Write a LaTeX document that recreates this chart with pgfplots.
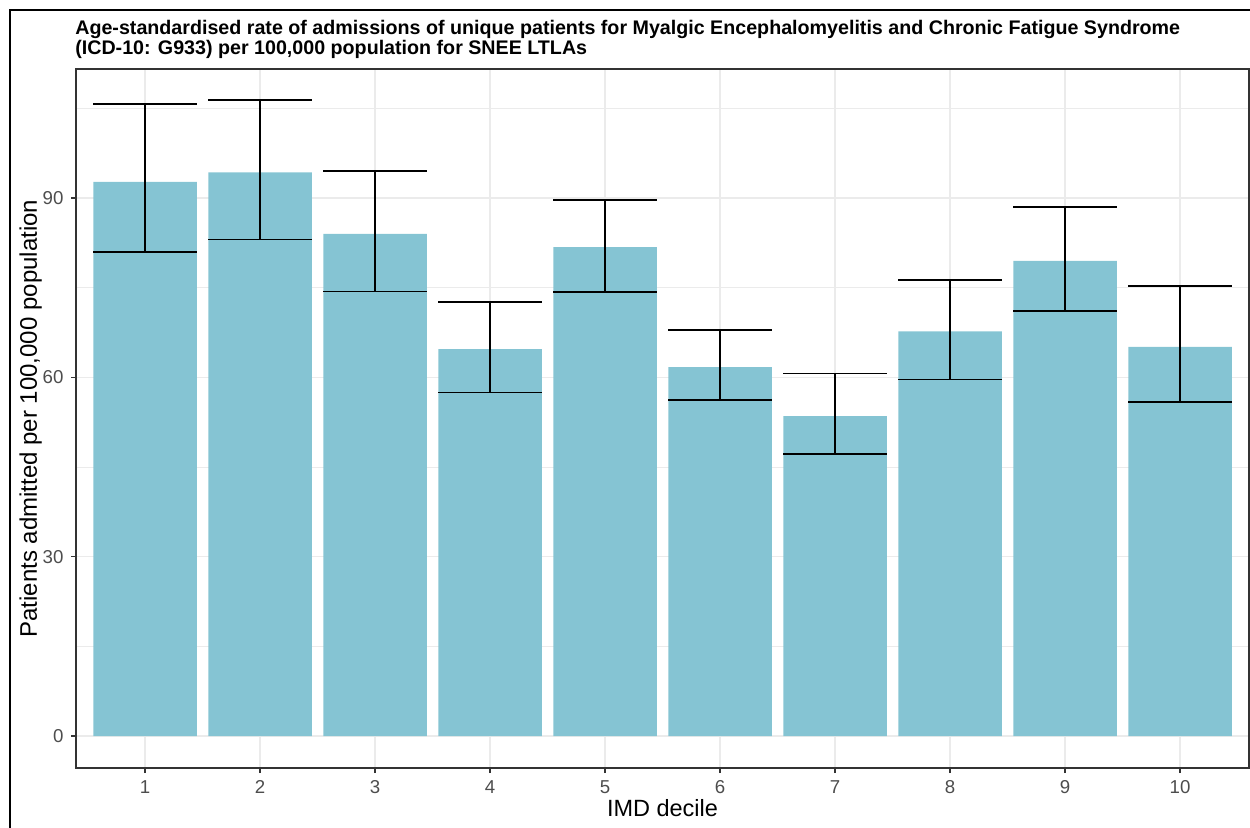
\documentclass[border=0pt]{standalone}
\usepackage{pgfplots}
\pgfplotsset{compat=1.18}
\usepackage{pgfplotstable}
\usepackage{fontspec}
\setmainfont{Liberation Sans}
\definecolor{barc}{RGB}{133,196,211}
\definecolor{gridc}{RGB}{235,235,235}
\definecolor{tickc}{RGB}{77,77,77}
\definecolor{framec}{RGB}{51,51,51}
\pgfplotstableread{
x y ep em
1 92.7 13.0 11.7
2 94.3 12.1 11.2
3 84.0 10.5 9.6
4 64.7 7.9 7.2
5 81.8 7.9 7.5
6 61.7 6.2 5.5
7 53.5 7.1 6.3
8 67.7 8.6 8.1
9 79.5 9.0 8.4
10 65.1 10.2 9.2
}\datatable
\begin{document}
\begin{tikzpicture}
\useasboundingbox (0,0) rectangle (750pt,496.2pt);
\draw[line width=1.4pt] (6pt,-2pt) -- (6pt,490.2pt) -- (752pt,490.2pt);
\begin{axis}[
  at={(45.6pt,35.4pt)}, anchor=south west,
  scale only axis, width=703.8pt, height=419.4pt,
  xmin=0.4, xmax=10.6, ymin=-5.35, ymax=111.58,
  xtick={1,...,10}, ytick={0,30,60,90}, minor ytick={15,45,75,105},
  grid=both,
  major grid style={draw=gridc, line width=0.9pt},
  minor grid style={draw=gridc, line width=0.5pt},
  axis line style={draw=framec, line width=0.8pt},
  tick align=outside, major tick length=3pt, minor tick length=0pt,
  tick style={draw=framec, line width=0.7pt},
  xtick pos=bottom, ytick pos=left,
  ticklabel style={font=\fontsize{11.2}{12}\selectfont, text=tickc},
  /pgf/number format/assume math mode=true,
  xticklabel style={yshift=-1pt},
  yticklabel style={xshift=-1pt},
  axis on top=false,
]
\addplot[ybar, bar width=0.9, fill=barc, draw=none,
  error bars/.cd, y dir=both, y explicit,
  error bar style={black, line width=0.85pt},
  error mark options={black, line width=0.85pt, mark size=31.05pt, rotate=90}]
  table[x=x, y=y, y error plus=ep, y error minus=em] {\datatable};
\end{axis}
\node[anchor=base west, align=left, font=\bfseries\fontsize{11.8}{11}\selectfont, inner sep=0pt] at (45pt,463.4pt)
  {Age-standardised rate of admissions of unique patients for Myalgic Encephalomyelitis and Chronic Fatigue Syndrome\\(ICD-10: G933) per 100,000 population for SNEE LTLAs};
\node[anchor=base, font=\fontsize{14.1}{16}\selectfont, inner sep=0pt] at (397.5pt,6.2pt) {IMD decile};
\node[anchor=base, rotate=90, font=\fontsize{14.4}{16}\selectfont, inner sep=0pt] at (22.2pt,245.0pt) {Patients admitted per 100,000 population};
\end{tikzpicture}
\end{document}
